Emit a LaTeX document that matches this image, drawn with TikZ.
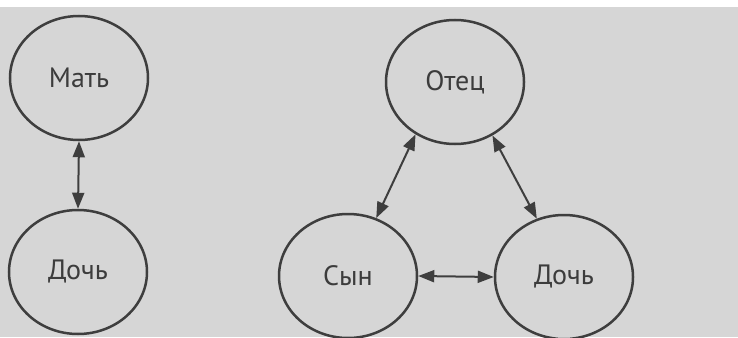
\documentclass[tikz,border=0pt]{standalone}
\usepackage{fontspec}
\setmainfont{PT Sans}
\usetikzlibrary{shapes.geometric,arrows.meta}
\definecolor{bg}{RGB}{214,214,214}
\definecolor{ink}{RGB}{62,62,62}
\definecolor{txt}{RGB}{60,60,60}
\tikzset{
  person/.style={ellipse, draw=ink, line width=2.5pt, inner sep=0pt,
    minimum width=138pt, minimum height=124pt, text=txt, font=\fontsize{28}{32}\selectfont},
  link/.style={{Triangle[length=16pt,width=12pt]}-{Triangle[length=16pt,width=12pt]}, draw=ink, line width=2pt}
}
\begin{document}
\begin{tikzpicture}[x=1pt,y=-1pt]
\useasboundingbox (0,0) rectangle (738,337);
\fill[bg] (0,7) rectangle (738,337);
\node[person] (mat) at (79,78) {Мать};
\node[person] (doch1) at (78,272) {Дочь};
\node[person] (otec) at (455,82) {Отец};
\node[person] (syn) at (348,276) {Сын};
\node[person] (doch2) at (564,277) {Дочь};
\draw[link] (mat.south) -- (doch1.north);
\draw[link] (otec.233) -- (syn.64);
\draw[link] (otec.305) -- (doch2.115);
\draw[link] (syn.east) -- (doch2.west);
\end{tikzpicture}
\end{document}
